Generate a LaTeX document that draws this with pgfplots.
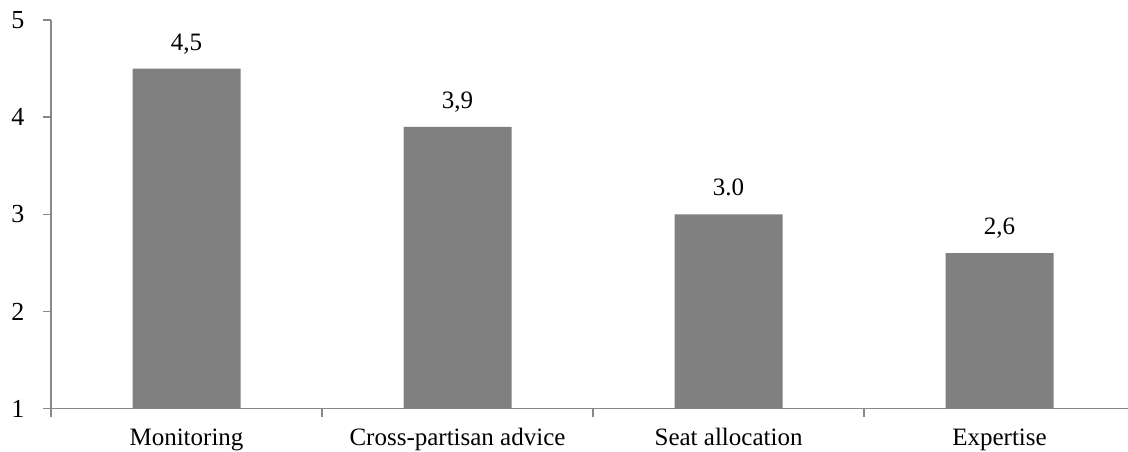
\documentclass[border=0pt]{standalone}
\usepackage{pgfplots}
\pgfplotsset{compat=1.18}
\usepackage{fontspec}
\setmainfont{Liberation Serif}
\definecolor{barg}{HTML}{808080}
\definecolor{axg}{HTML}{888888}
\begin{document}
\begin{tikzpicture}
\useasboundingbox (0,0) rectangle (1128pt,452pt);
\begin{axis}[
  at={(51pt,43.3pt)}, anchor=south west,
  scale only axis, width=1077pt, height=388.7pt,
  xmin=-0.5, xmax=3.474, ymin=1, ymax=5,
  axis x line*=bottom, axis y line*=left,
  axis line style={draw=axg, line width=1.4pt},
  tick align=outside,
  major tick length=8pt,
  tick style={draw=axg, line width=1.4pt},
  ytick={1,2,3,4,5},
  xtick={-0.5,0.5,1.5,2.5}, xticklabels={},
  extra x ticks={0,1,2,3},
  extra x tick labels={Monitoring,Cross-partisan advice,Seat allocation,Expertise},
  extra x tick style={major tick length=0pt},
  /pgf/number format/assume math mode=true,
  tick label style={font=\fontsize{25}{30}\selectfont, text=black},
  yticklabel style={font=\fontsize{26}{30}\selectfont, xshift=-15pt},
  xticklabel style={anchor=base, yshift=-37pt},
  bar width=108pt,
  point meta=explicit symbolic,
  nodes near coords,
  every node near coord/.append style={font=\fontsize{25}{30}\selectfont, anchor=base, yshift=18.5pt, inner sep=0pt},
  clip=false,
]
\addplot[ybar, fill=barg, draw=none] coordinates {
  (0,4.5) [4{,}5]
  (1,3.9) [3{,}9]
  (2,3.0) [3.0]
  (3,2.6) [2{,}6]
};
\end{axis}
\end{tikzpicture}
\end{document}
